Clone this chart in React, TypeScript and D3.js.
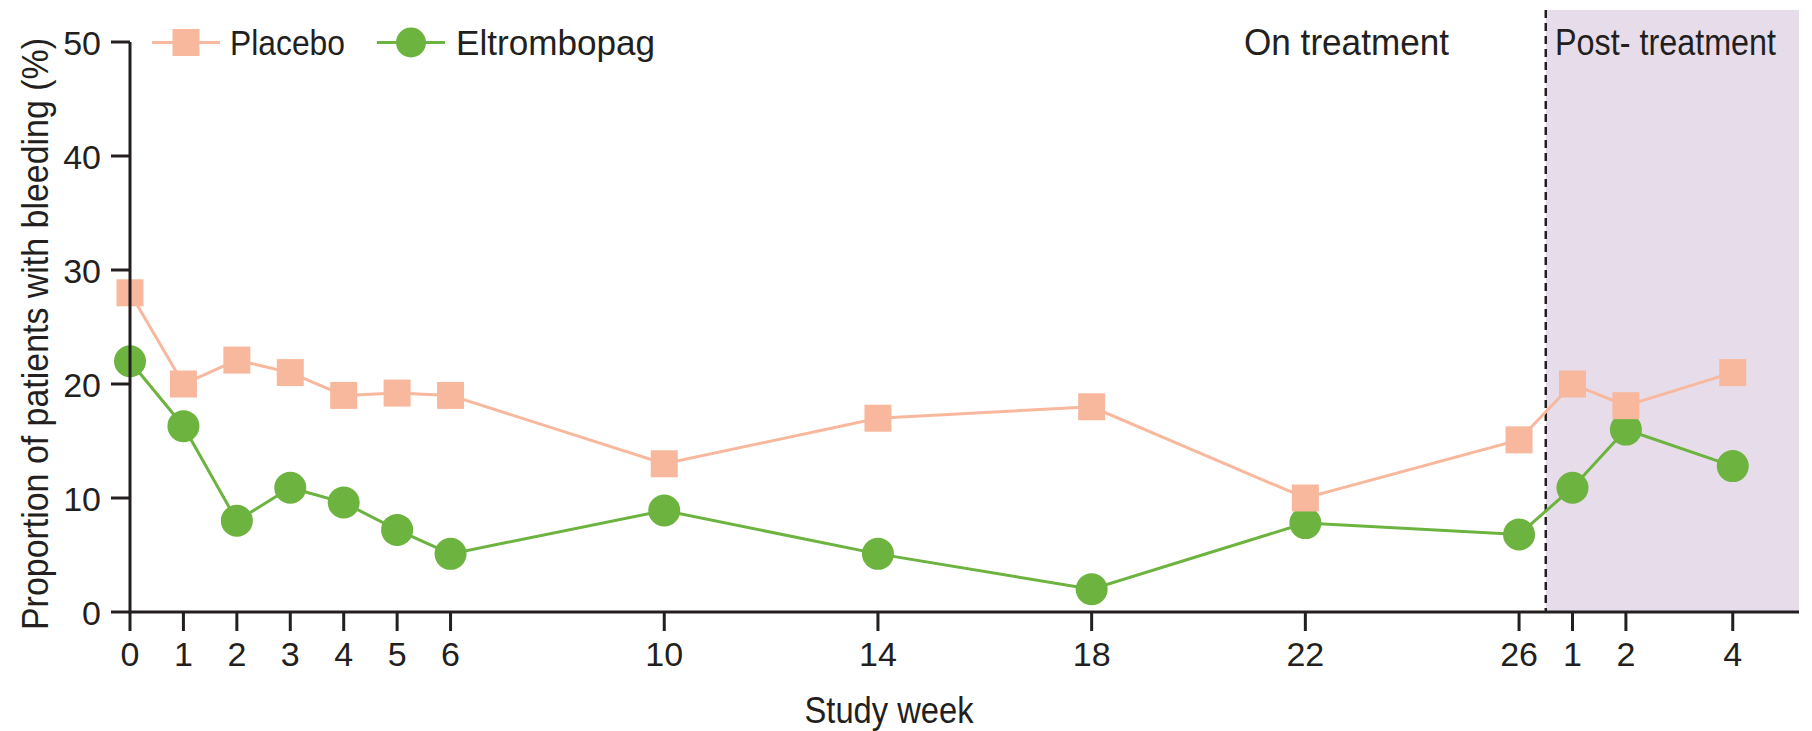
import React from "react";
import * as d3 from "d3";

// Study weeks on treatment, then weeks after treatment stopped
const onTreatmentWeeks = [0, 1, 2, 3, 4, 5, 6, 10, 14, 18, 22, 26];
const postTreatmentWeeks = [1, 2, 4];

// Proportion of patients with bleeding (%) at each visit
const placebo = [28, 20, 22.1, 21, 19, 19.2, 19, 13, 17, 18, 10, 15.1, 20, 18.1, 21];
const eltrombopag = [22, 16.3, 8, 10.9, 9.6, 7.2, 5.1, 8.9, 5.1, 2, 7.8, 6.8, 10.9, 16, 12.8];

const yTicks = [0, 10, 20, 30, 40, 50];

const W = 1812;
const H = 731;
const FONT = "'Liberation Sans', Arial, sans-serif";
const INK = "#231f20";
const SALMON = "#f8b89d";
const GREEN = "#6cb33f";
const SHADE = "#e7ddea";

const lastOnWeek = onTreatmentWeeks[onTreatmentWeeks.length - 1];
const positions = [...onTreatmentWeeks, ...postTreatmentWeeks.map((k) => lastOnWeek + k)];
const tickLabels = [...onTreatmentWeeks, ...postTreatmentWeeks].map(String);

// Condensed text: a fixed width squeezes the glyphs horizontally
function Label(props: {
  x: number;
  y: number;
  size: number;
  width?: number;
  anchor?: string;
  transform?: string;
  children: React.ReactNode;
}) {
  const { x, y, size, width, anchor, transform, children } = props;
  return (
    <text
      x={x}
      y={y}
      fontSize={size}
      fill={INK}
      textAnchor={anchor || "start"}
      transform={transform}
      textLength={width}
      lengthAdjust={width ? "spacingAndGlyphs" : undefined}
    >
      {children}
    </text>
  );
}

export default function App() {
  const x = d3.scaleLinear().domain([0, 31.24]).range([130, 1799]);
  const y = d3.scaleLinear().domain([0, 50]).range([612, 42]);

  const line = d3
    .line<number>()
    .x((_, i) => x(positions[i]))
    .y((v) => y(v));

  const boundary = x(lastOnWeek + 0.5);
  const sq = 27;
  const r = 16;

  return (
    <svg
      width={W}
      height={H}
      viewBox={`0 0 ${W} ${H}`}
      style={{ position: "absolute", left: 0, top: 0, background: "#fff" }}
      fontFamily={FONT}
    >
      {/* post-treatment period */}
      <rect x={boundary} y={10} width={x.range()[1] - boundary} height={y(0) - 10} fill={SHADE} />
      <line
        x1={boundary}
        x2={boundary}
        y1={10}
        y2={y(0)}
        stroke={INK}
        strokeWidth={2.5}
        strokeDasharray="8 5"
      />

      {/* period labels */}
      <Label x={1244} y={55} size={36} width={205}>
        On treatment
      </Label>
      <Label x={1555} y={55} size={36} width={221}>
        Post- treatment
      </Label>

      {/* Eltrombopag series */}
      <path d={line(eltrombopag) || ""} fill="none" stroke={GREEN} strokeWidth={3} />
      {eltrombopag.map((v, i) => (
        <circle key={`e${i}`} cx={x(positions[i])} cy={y(v)} r={r} fill={GREEN} />
      ))}

      {/* Placebo series */}
      <path d={line(placebo) || ""} fill="none" stroke={SALMON} strokeWidth={3} />
      {placebo.map((v, i) => (
        <rect
          key={`p${i}`}
          x={x(positions[i]) - sq / 2}
          y={y(v) - sq / 2}
          width={sq}
          height={sq}
          fill={SALMON}
        />
      ))}

      {/* axes */}
      <path
        d={`M${x(0)},${y(50)} V${y(0)} H${x.range()[1]}`}
        fill="none"
        stroke={INK}
        strokeWidth={3}
      />
      {yTicks.map((t) => (
        <g key={`yt${t}`}>
          <line x1={x(0) - 19} x2={x(0)} y1={y(t)} y2={y(t)} stroke={INK} strokeWidth={3} />
          <Label x={101} y={y(t) + 13} size={34} anchor="end">
            {t}
          </Label>
        </g>
      ))}
      {positions.map((p, i) => (
        <g key={`xt${i}`}>
          <line x1={x(p)} x2={x(p)} y1={y(0)} y2={y(0) + 19} stroke={INK} strokeWidth={3} />
          <Label x={x(p)} y={666} size={34} anchor="middle">
            {tickLabels[i]}
          </Label>
        </g>
      ))}

      {/* axis titles */}
      <Label x={889} y={723} size={36} width={169} anchor="middle">
        Study week
      </Label>
      <Label
        x={0}
        y={0}
        size={36}
        width={592}
        anchor="middle"
        transform={`translate(48,${334}) rotate(-90)`}
      >
        Proportion of patients with bleeding (%)
      </Label>

      {/* legend */}
      <line x1={152} x2={220} y1={42.5} y2={42.5} stroke={SALMON} strokeWidth={3} />
      <rect x={186 - sq / 2} y={42.5 - sq / 2} width={sq} height={sq} fill={SALMON} />
      <Label x={230} y={55} size={35} width={115}>
        Placebo
      </Label>
      <line x1={377} x2={445} y1={42.5} y2={42.5} stroke={GREEN} strokeWidth={3} />
      <circle cx={411} cy={42.5} r={15} fill={GREEN} />
      <Label x={456} y={55} size={35} width={199}>
        Eltrombopag
      </Label>
    </svg>
  );
}
